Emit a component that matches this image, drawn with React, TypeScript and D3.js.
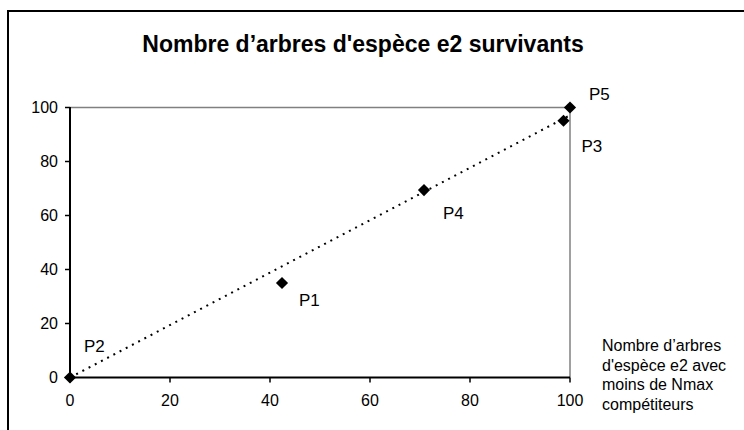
import { scaleLinear, line as d3_line, symbol, symbolDiamond2 } from "d3";

const title = "Nombre d’arbres d'espèce e2 survivants";
const xAxisTitle = ["Nombre d’arbres", "d'espèce e2 avec", "moins de Nmax", "compétiteurs"];

const pointNames = ["P2", "P1", "P4", "P3", "P5"];
const xValues = [0, 42.4, 70.8, 98.7, 100];
const yValues = [0, 35, 69.4, 95.1, 100];

const xTicks = [0, 20, 40, 60, 80, 100];
const yTicks = [0, 20, 40, 60, 80, 100];

// hand-placed data label offsets (px), like Excel's moved labels
const labelOffsets = [
  [14, -26],
  [17, 23],
  [19, 29],
  [18, 31],
  [19, -8],
];

const font = "'Liberation Sans', Arial, sans-serif";

export default function App() {
  const width = 744;
  const height = 430;
  const margin = { top: 107.5, right: 174, bottom: 52.5, left: 70 };

  const x = scaleLinear().domain([0, 100]).range([margin.left, width - margin.right]);
  const y = scaleLinear().domain([0, 100]).range([height - margin.bottom, margin.top]);

  const data = xValues.map((v, i) => ({ name: pointNames[i], x: v, y: yValues[i] }));

  // linear trendline forced through the origin
  const sxy = data.reduce((s, d) => s + d.x * d.y, 0);
  const sxx = data.reduce((s, d) => s + d.x * d.x, 0);
  const slope = sxy / sxx;
  const trend = d3_line<number>()
    .x((d) => x(d))
    .y((d) => y(d * slope));

  const diamond = symbol().type(symbolDiamond2).size(95)();

  const [x0, x1] = x.range();
  const [y0, y1] = y.range();

  return (
    <svg
      width={width}
      height={height}
      style={{ position: "absolute", left: 0, top: 0, display: "block", background: "#fff" }}
      fontFamily={font}
    >
      {/* chart frame */}
      <rect x={8} y={11} width={800} height={500} fill="none" stroke="#000" strokeWidth={2} />

      <text x={363} y={52} textAnchor="middle" fontSize={23} fontWeight="bold" fill="#000">
        {title}
      </text>

      {/* plot border (gray top/right) */}
      <line x1={x0} x2={x1} y1={y1} y2={y1} stroke="#808080" strokeWidth={1.5} />
      <line x1={x1} x2={x1} y1={y1} y2={y0} stroke="#808080" strokeWidth={1.5} />

      {/* Y axis */}
      <line x1={x0} x2={x0} y1={y1 - 0.5} y2={y0 + 0.5} stroke="#000" strokeWidth={2} />
      {yTicks.map((t) => (
        <g key={t} transform={`translate(0,${y(t)})`}>
          <line x1={x0 - 5} x2={x0} stroke="#000" strokeWidth={1.5} />
          <text x={58} dy="0.36em" textAnchor="end" fontSize={16} fill="#000">
            {t}
          </text>
        </g>
      ))}

      {/* X axis */}
      <line x1={x0} x2={x1} y1={y0} y2={y0} stroke="#000" strokeWidth={2} />
      {xTicks.map((t) => (
        <g key={t} transform={`translate(${x(t)},0)`}>
          <line y1={y0} y2={y0 + 5} stroke="#000" strokeWidth={1.5} />
          <text y={y0 + 28} textAnchor="middle" fontSize={16} fill="#000">
            {t}
          </text>
        </g>
      ))}

      {xAxisTitle.map((s, i) => (
        <text key={i} x={602} y={351 + i * 19.5} fontSize={16} fill="#000">
          {s}
        </text>
      ))}

      {/* trendline */}
      <path
        d={trend([0, 100]) ?? ""}
        fill="none"
        stroke="#000"
        strokeWidth={2}
        strokeDasharray="2,5"
      />

      {/* markers */}
      {data.map((d, i) => (
        <path key={i} d={diamond ?? ""} transform={`translate(${x(d.x)},${y(d.y)})`} fill="#000" />
      ))}

      {/* labels */}
      {data.map((d, i) => (
        <text
          key={i}
          x={x(d.x) + labelOffsets[i][0]}
          y={y(d.y) + labelOffsets[i][1]}
          fontSize={17}
          fill="#000"
        >
          {d.name}
        </text>
      ))}
    </svg>
  );
}
